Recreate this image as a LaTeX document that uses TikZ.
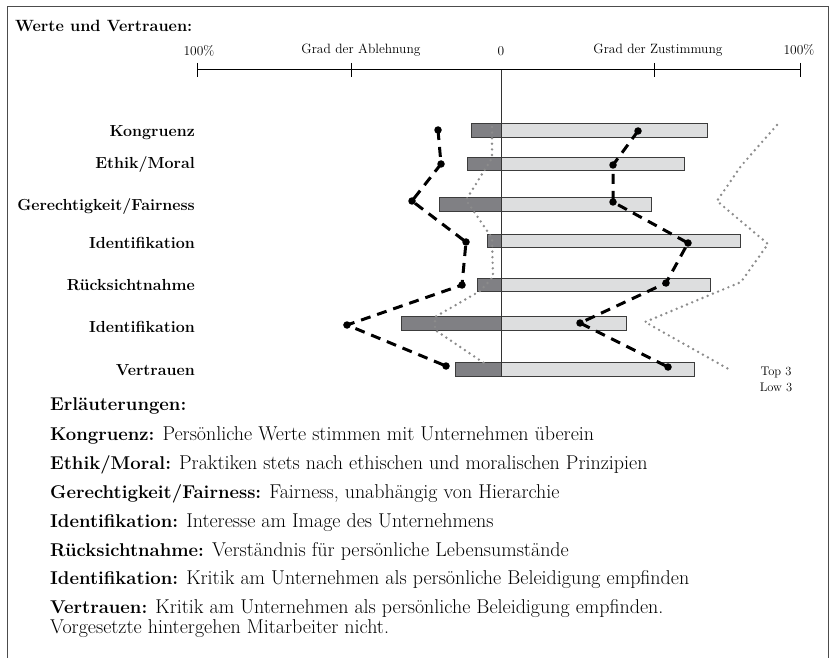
\documentclass[tikz,border=0pt]{standalone}
\usepackage{fontspec}
\definecolor{darkbar}{RGB}{128,128,132}
\definecolor{lightbar}{RGB}{221,222,223}
\definecolor{barline}{RGB}{60,60,60}
\definecolor{dotgray}{RGB}{140,140,140}
\newcommand{\lbl}[1]{{\fontsize{18.5}{20}\selectfont\bfseries #1}}
\begin{document}
\begin{tikzpicture}[x=1pt,y=-1pt,
  lowbar/.style={draw=barline,fill=darkbar,line width=1pt},
  highbar/.style={draw=barline,fill=lightbar,line width=1pt},
  rowlabel/.style={anchor=east,inner sep=0pt,font=\fontsize{16}{18}\selectfont\bfseries},
  axislabel/.style={anchor=base,inner sep=0pt,font=\fontsize{13.5}{16}\selectfont},
  legendlabel/.style={anchor=base,inner sep=0pt,font=\fontsize{12.5}{15}\selectfont},
  explain/.style={anchor=base west,inner sep=0pt,align=left,font=\fontsize{20}{20}\selectfont},
  dashline/.style={line width=3pt,dash pattern=on 10pt off 7pt,black},
  dotline/.style={line width=2.7pt,dash pattern=on 0pt off 5.6pt,line cap=round,dotgray},
  marker/.style={circle,fill=black,inner sep=0pt,minimum size=7.5pt}]
\useasboundingbox (0,0) rectangle (831,658);
% frame (open at the bottom)
\draw[line width=1pt,black!70] (7,658) -- (7,7) -- (828,7) -- (828,658);
% title
\node[anchor=base west,inner sep=0pt,font=\fontsize{16.3}{19}\selectfont\bfseries] (title) at (15,32) {Werte und Vertrauen:};
% axis
\draw[line width=1pt] (197,70) -- (800,70);
\foreach \t in {197,351,654,800} \draw[line width=1pt] (\t,63) -- (\t,77);
\node[axislabel] (p100l) at (199,56) {100\%};
\node[axislabel] (ablehn) at (361,54) {Grad der Ablehnung};
\node[axislabel] (zero) at (501,56) {0};
\node[axislabel] (zustim) at (658,54) {Grad der Zustimmung};
\node[axislabel] (p100r) at (799,55) {100\%};
% bars
\foreach \yt/\yb/\xl/\xr in {124/138/471/707,158/171/467/684,198/212/439/651,235/248/487/740,278/291/477/710,316/330/401/626,362/376/455/694}{
  \draw[lowbar] (\xl,\yt) rectangle (501,\yb);
  \draw[highbar] (501,\yt) rectangle (\xr,\yb);
}
% zero line
\draw[line width=1pt,black!80] (501,70) -- (501,377);
% row labels
\node[rowlabel] (r1) at (195,133) {Kongruenz};
\node[rowlabel] (r2) at (195,165) {Ethik/Moral};
\node[rowlabel] (r3) at (195,207) {Gerechtigkeit/Fairness};
\node[rowlabel] (r4) at (195,243) {Identifikation};
\node[rowlabel] (r5) at (195,285) {Rücksichtnahme};
\node[rowlabel] (r6) at (195,327) {Identifikation};
\node[rowlabel] (r7) at (195,370) {Vertrauen};
% gray dotted lines
\coordinate (i1) at (492,127); \coordinate (i2) at (492,158);
\coordinate (i3) at (466,200); \coordinate (i4) at (492,238);
\coordinate (i5) at (493,277); \coordinate (i6) at (480,291);
\coordinate (i7) at (435,317); \coordinate (i8) at (435,330);
\coordinate (i9) at (484,363);
\draw[dotline] (i1) -- (i2) -- (i3) -- (i4) -- (i5) -- (i6) -- (i7) -- (i8) -- (i9);
\coordinate (o1) at (777,125); \coordinate (o2) at (741,166);
\coordinate (o3) at (717,201); \coordinate (o4) at (768,244);
\coordinate (o5) at (741,282); \coordinate (o6) at (645,322);
\coordinate (o7) at (732,371);
\draw[dotline] (o1) -- (o2) -- (o3) -- (o4) -- (o5) -- (o6) -- (o7);
% low line
\coordinate (L1) at (438,130); \coordinate (L2) at (441,164);
\coordinate (L3) at (412,201); \coordinate (L4) at (466,242);
\coordinate (L5) at (462,285); \coordinate (L6) at (347,325);
\coordinate (L7) at (446,366);
\draw[dashline] (L1) -- (L2) -- (L3) -- (L4) -- (L5) -- (L6) -- (L7);
% top line
\coordinate (H1) at (638,131); \coordinate (H2) at (613,165);
\coordinate (H3) at (613,202); \coordinate (H4) at (688,243);
\coordinate (H5) at (666,283); \coordinate (H6) at (580,323);
\coordinate (H7) at (668,367);
\draw[dashline] (H1) -- (H2) -- (H3) -- (H4) -- (H5) -- (H6) -- (H7);
\foreach \p in {L1,L2,L3,L4,L5,L6,L7,H1,H2,H3,H4,H5,H6,H7}
  \node[marker] (m\p) at (\p) {};
% legend
\node[legendlabel] (top3) at (776,375) {Top 3};
\node[legendlabel] (low3) at (776,391) {Low 3};
% explanations
\node[explain] (e0) at (50,410) {\lbl{Erläuterungen:}};
\node[explain] (e1) at (50,440) {\lbl{Kongruenz:} Persönliche Werte stimmen mit Unternehmen überein};
\node[explain] (e2) at (50,469) {\lbl{Ethik/Moral:} Praktiken stets nach ethischen und moralischen Prinzipien};
\node[explain] (e3) at (50,498) {\lbl{Gerechtigkeit/Fairness:} Fairness, unabhängig von Hierarchie};
\node[explain] (e4) at (50,527) {\lbl{Identifikation:} Interesse am Image des Unternehmens};
\node[explain] (e5) at (50,556) {\lbl{Rücksichtnahme:} Verständnis für persönliche Lebensumstände};
\node[explain] (e6) at (50,584) {\lbl{Identifikation:} Kritik am Unternehmen als persönliche Beleidigung empfinden};
\node[explain] (e7) at (50,613) {\lbl{Vertrauen:} Kritik am Unternehmen als persönliche Beleidigung empfinden.};
\node[explain] (e7b) at (50,633) {Vorgesetzte hintergehen Mitarbeiter nicht.};
\end{tikzpicture}
\end{document}
